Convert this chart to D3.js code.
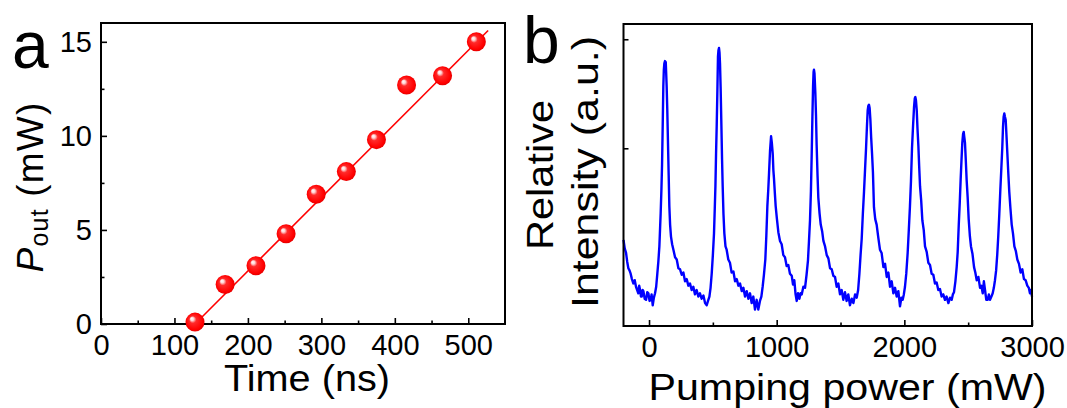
<!DOCTYPE html>
<html>
<head>
<meta charset="utf-8">
<script src="https://cdn.jsdelivr.net/npm/d3@7"></script>
<style>
  html, body { margin: 0; padding: 0; background: #fff; }
  svg text { font-family: "Liberation Sans", Arial, sans-serif; fill: #000; }
</style>
</head>
<body>
<svg id="chart" width="1067" height="408"></svg>
<script>
// panel a: output power vs time
const timeNs = [128, 169, 211, 252, 293, 334, 375, 416, 465, 511];
const powerOut = [0.1, 2.1, 3.1, 4.8, 6.9, 8.1, 9.8, 12.7, 13.2, 15.0];
// linear fit, end points
const fitTime = [128, 527];
const fitPower = [0, 15.6];
const timeTicks = [0, 100, 200, 300, 400, 500];
const timeMinor = [50, 150, 250, 350, 450];
const powerTicks = [0, 5, 10, 15];
const powerMinor = [2.5, 7.5, 12.5];

// panel b: relative intensity vs pumping power
const pumpPower = [
  -200, -190, -180, -171, -162, -153, -144, -134, -123, -112, -102, -93, -84, -77, -70, -63, -57, -50, -44, -34,
  -23, -14, -5, 4, 13, 20, 29, 38, 47, 56, 65, 73, 81, 86, 91, 97, 102, 107, 112, 116,
  120, 125, 131, 134, 138, 143, 149, 154, 159, 165, 172, 181, 191, 204, 217, 230, 243, 256, 269, 282,
  295, 308, 321, 334, 347, 360, 373, 386, 399, 412, 426, 439, 452, 462, 473, 482, 491, 500, 509, 515,
  520, 525, 530, 535, 540, 544, 548, 552, 556, 561, 567, 572, 577, 583, 590, 599, 608, 621, 634, 647,
  661, 674, 687, 700, 713, 726, 739, 752, 765, 778, 791, 804, 817, 830, 843, 856, 869, 880, 890, 900,
  911, 919, 927, 934, 940, 948, 956, 962, 969, 974, 979, 985, 992, 1002, 1013, 1026, 1039, 1052, 1065, 1078,
  1091, 1104, 1118, 1128, 1138, 1148, 1157, 1167, 1178, 1187, 1196, 1209, 1222, 1234, 1245, 1253, 1261, 1268, 1274, 1280,
  1285, 1289, 1292, 1296, 1303, 1308, 1313, 1320, 1326, 1336, 1345, 1356, 1366, 1379, 1392, 1405, 1418, 1431, 1444, 1457,
  1470, 1483, 1496, 1509, 1522, 1535, 1548, 1561, 1574, 1588, 1601, 1614, 1627, 1638, 1648, 1657, 1666, 1675, 1684, 1692,
  1700, 1707, 1713, 1718, 1723, 1728, 1734, 1740, 1747, 1754, 1762, 1772, 1783, 1796, 1809, 1822, 1836, 1849, 1862, 1875,
  1888, 1901, 1914, 1927, 1940, 1953, 1966, 1977, 1987, 1996, 2005, 2015, 2026, 2035, 2044, 2052, 2060, 2068, 2076, 2082,
  2086, 2091, 2097, 2103, 2110, 2116, 2123, 2132, 2141, 2152, 2162, 2175, 2188, 2201, 2214, 2227, 2240, 2253, 2266, 2279,
  2292, 2305, 2318, 2331, 2345, 2358, 2371, 2380, 2389, 2400, 2410, 2418, 2426, 2434, 2441, 2448, 2454, 2460, 2465, 2470,
  2475, 2481, 2488, 2496, 2504, 2513, 2522, 2534, 2546, 2556, 2567, 2580, 2593, 2603, 2614, 2623, 2632, 2642, 2653, 2662,
  2671, 2682, 2692, 2701, 2710, 2719, 2728, 2736, 2744, 2752, 2760, 2767, 2773, 2778, 2783, 2788, 2794, 2800, 2807, 2814,
  2822, 2831, 2841, 2851, 2862, 2873, 2885, 2898, 2911, 2924, 2937, 2950, 2963, 2975, 2984, 2992, 3000
];
const intensity = [
  1.16, 1.08, 1.04, 0.96, 0.90, 0.88, 0.85, 0.80, 0.76, 0.79, 0.73, 0.70, 0.67, 0.74, 0.70, 0.64, 0.64, 0.70, 0.69, 0.62,
  0.61, 0.68, 0.67, 0.60, 0.61, 0.66, 0.56, 0.63, 0.67, 0.73, 0.85, 0.96, 1.10, 1.25, 1.40, 1.62, 1.85, 2.20, 2.57, 2.72,
  2.78, 2.80, 2.79, 2.70, 2.57, 2.35, 2.02, 1.75, 1.47, 1.30, 1.19, 1.12, 1.07, 1.00, 0.98, 0.90, 0.89, 0.84, 0.86, 0.78,
  0.80, 0.74, 0.76, 0.70, 0.73, 0.66, 0.70, 0.64, 0.67, 0.62, 0.65, 0.58, 0.56, 0.60, 0.64, 0.72, 0.85, 1.02, 1.22, 1.45,
  1.65, 1.95, 2.20, 2.50, 2.84, 2.90, 2.92, 2.88, 2.78, 2.55, 2.20, 1.90, 1.65, 1.40, 1.22, 1.10, 1.07, 0.98, 0.95, 0.86,
  0.87, 0.78, 0.80, 0.74, 0.76, 0.69, 0.72, 0.64, 0.69, 0.62, 0.67, 0.58, 0.64, 0.52, 0.61, 0.52, 0.60, 0.64, 0.73, 0.84,
  0.98, 1.20, 1.47, 1.62, 1.77, 1.98, 2.11, 2.05, 1.95, 1.80, 1.72, 1.60, 1.47, 1.35, 1.23, 1.15, 1.12, 1.02, 1.00, 0.92,
  0.93, 0.85, 0.83, 0.75, 0.79, 0.66, 0.60, 0.67, 0.62, 0.67, 0.66, 0.73, 0.72, 0.84, 0.97, 1.15, 1.34, 1.60, 1.93, 2.30,
  2.57, 2.70, 2.72, 2.69, 2.50, 2.30, 2.03, 1.75, 1.55, 1.40, 1.30, 1.24, 1.15, 1.10, 1.02, 0.99, 0.90, 0.89, 0.83, 0.82,
  0.73, 0.76, 0.66, 0.70, 0.61, 0.68, 0.60, 0.66, 0.56, 0.62, 0.58, 0.66, 0.63, 0.70, 0.85, 1.02, 1.17, 1.40, 1.60, 1.80,
  2.00, 2.20, 2.35, 2.39, 2.40, 2.37, 2.26, 2.10, 1.95, 1.78, 1.46, 1.35, 1.30, 1.18, 1.07, 1.04, 0.91, 0.94, 0.82, 0.86,
  0.73, 0.78, 0.67, 0.72, 0.64, 0.69, 0.55, 0.63, 0.61, 0.66, 0.73, 0.85, 1.04, 1.25, 1.47, 1.70, 2.00, 2.20, 2.38, 2.46,
  2.47, 2.44, 2.35, 2.18, 2.02, 1.84, 1.65, 1.52, 1.34, 1.25, 1.10, 1.05, 0.95, 0.93, 0.85, 0.84, 0.76, 0.77, 0.70, 0.71,
  0.64, 0.66, 0.61, 0.64, 0.58, 0.63, 0.61, 0.66, 0.68, 0.78, 0.91, 1.05, 1.29, 1.50, 1.71, 1.90, 2.05, 2.13, 2.15, 2.10,
  2.05, 1.90, 1.71, 1.55, 1.35, 1.20, 1.10, 1.03, 0.91, 0.86, 0.79, 0.82, 0.72, 0.74, 0.67, 0.78, 0.70, 0.61, 0.61, 0.66,
  0.61, 0.64, 0.67, 0.72, 0.79, 0.88, 1.03, 1.20, 1.40, 1.62, 1.82, 2.00, 2.20, 2.29, 2.32, 2.29, 2.26, 2.12, 1.95, 1.78,
  1.60, 1.45, 1.30, 1.22, 1.10, 1.06, 0.98, 0.94, 0.86, 0.89, 0.80, 0.79, 0.74, 0.72, 0.67, 0.70, 0.64
];
const pumpTicks = [0, 1000, 2000, 3000];
const pumpMinor = [500, 1500, 2500];
const intensityTicks = [2, 3];

const svg = d3.select('#chart');
const FONT_TICK = 29;
const plain = d3.format('d');

// sphere-like marker shading
const defs = svg.append('defs');
const grad = defs.append('radialGradient')
  .attr('id', 'ball')
  .attr('cx', '50%').attr('cy', '50%').attr('r', '55%')
  .attr('fx', '32%').attr('fy', '30%');
[[0, '#ffffff'], [0.16, '#ffd6d6'], [0.34, '#ff2a2a'], [0.8, '#ff0000'], [1, '#d80000']]
  .forEach(([o, c]) => grad.append('stop').attr('offset', o).attr('stop-color', c));

function styleAxis(g) {
  g.select('.domain').remove();
  g.selectAll('line').attr('stroke', '#000').attr('stroke-width', 1.6);
  g.selectAll('text')
    .attr('font-size', FONT_TICK)
    .attr('font-family', '"Liberation Sans", Arial, sans-serif')
    .attr('fill', '#000');
}

function frame(x, y) {
  svg.append('rect')
    .attr('x', x.range()[0])
    .attr('y', y.range()[1])
    .attr('width', x.range()[1] - x.range()[0])
    .attr('height', y.range()[0] - y.range()[1])
    .attr('fill', 'none')
    .attr('stroke', '#000')
    .attr('stroke-width', 2);
}

// axis titles in the figure are drawn a little wider than Arial
function title(x, y, rot, size, len, str) {
  return svg.append('text')
    .attr('transform', `translate(${x},${y})` + (rot ? ' rotate(-90)' : ''))
    .attr('text-anchor', 'middle')
    .attr('font-size', size)
    .attr('textLength', len)
    .attr('lengthAdjust', 'spacingAndGlyphs')
    .text(str);
}

// ---------- panel a ----------
const xA = d3.scaleLinear().domain([0, 550]).range([101, 505]);
const yA = d3.scaleLinear().domain([0, 16]).range([324, 23]);

svg.append('g')
  .attr('transform', `translate(0,${yA.range()[0]})`)
  .call(d3.axisBottom(xA).tickValues(timeTicks).tickSize(-6).tickPadding(10).tickFormat(plain))
  .call(styleAxis);
svg.append('g')
  .attr('transform', `translate(0,${yA.range()[0]})`)
  .call(d3.axisBottom(xA).tickValues(timeMinor).tickSize(-3.5).tickFormat(''))
  .call(styleAxis);
svg.append('g')
  .attr('transform', `translate(${xA.range()[0]},0)`)
  .call(d3.axisLeft(yA).tickValues(powerTicks).tickSize(-6).tickPadding(9).tickFormat(plain))
  .call(styleAxis);
svg.append('g')
  .attr('transform', `translate(${xA.range()[0]},0)`)
  .call(d3.axisLeft(yA).tickValues(powerMinor).tickSize(-3.5).tickFormat(''))
  .call(styleAxis);
frame(xA, yA);

svg.append('path')
  .datum(d3.zip(fitTime, fitPower))
  .attr('d', d3.line().x(d => xA(d[0])).y(d => yA(d[1])))
  .attr('fill', 'none')
  .attr('stroke', '#ff0000')
  .attr('stroke-width', 1.6);

svg.append('g')
  .selectAll('circle')
  .data(d3.zip(timeNs, powerOut))
  .join('circle')
  .attr('cx', d => xA(d[0]))
  .attr('cy', d => yA(d[1]))
  .attr('r', 9.5)
  .attr('fill', 'url(#ball)');

title(307, 391, false, 36, 166, 'Time (ns)');

const yTitleA = svg.append('text')
  .attr('transform', 'translate(43,187) rotate(-90)')
  .attr('text-anchor', 'middle')
  .attr('font-size', 37)
  .attr('letter-spacing', 1.2);
yTitleA.append('tspan').attr('font-style', 'italic').text('P');
yTitleA.append('tspan').attr('font-size', 25).attr('dy', 5).text('out');
yTitleA.append('tspan').attr('dy', -5).text(' (mW)');

svg.append('text')
  .attr('x', 12).attr('y', 68)
  .attr('font-size', 66)
  .text('a');

// ---------- panel b ----------
const xB = d3.scaleLinear().domain([-200, 3000]).range([623.5, 1032]);
const yB = d3.scaleLinear().domain([0.37, 3.14]).range([326, 24]);

svg.append('g')
  .attr('transform', `translate(0,${yB.range()[0]})`)
  .call(d3.axisBottom(xB).tickValues(pumpTicks).tickSize(-6).tickPadding(10).tickFormat(plain))
  .call(styleAxis);
svg.append('g')
  .attr('transform', `translate(0,${yB.range()[0]})`)
  .call(d3.axisBottom(xB).tickValues(pumpMinor).tickSize(-3.5).tickFormat(''))
  .call(styleAxis);
svg.append('g')
  .attr('transform', `translate(${xB.range()[0]},0)`)
  .call(d3.axisLeft(yB).tickValues(intensityTicks).tickSize(-5).tickFormat(''))
  .call(styleAxis);

svg.append('path')
  .datum(d3.zip(pumpPower, intensity))
  .attr('d', d3.line().x(d => xB(d[0])).y(d => yB(d[1])))
  .attr('fill', 'none')
  .attr('stroke', '#0000ff')
  .attr('stroke-width', 2.4)
  .attr('stroke-linejoin', 'round');
frame(xB, yB);

title(847.5, 400, false, 37, 398, 'Pumping power (mW)');
title(553, 175, true, 37, 150, 'Relative');
title(598, 172, true, 37, 272, 'Intensity (a.u.)');

svg.append('text')
  .attr('x', 523).attr('y', 63)
  .attr('font-size', 66)
  .text('b');
</script>
</body>
</html>
